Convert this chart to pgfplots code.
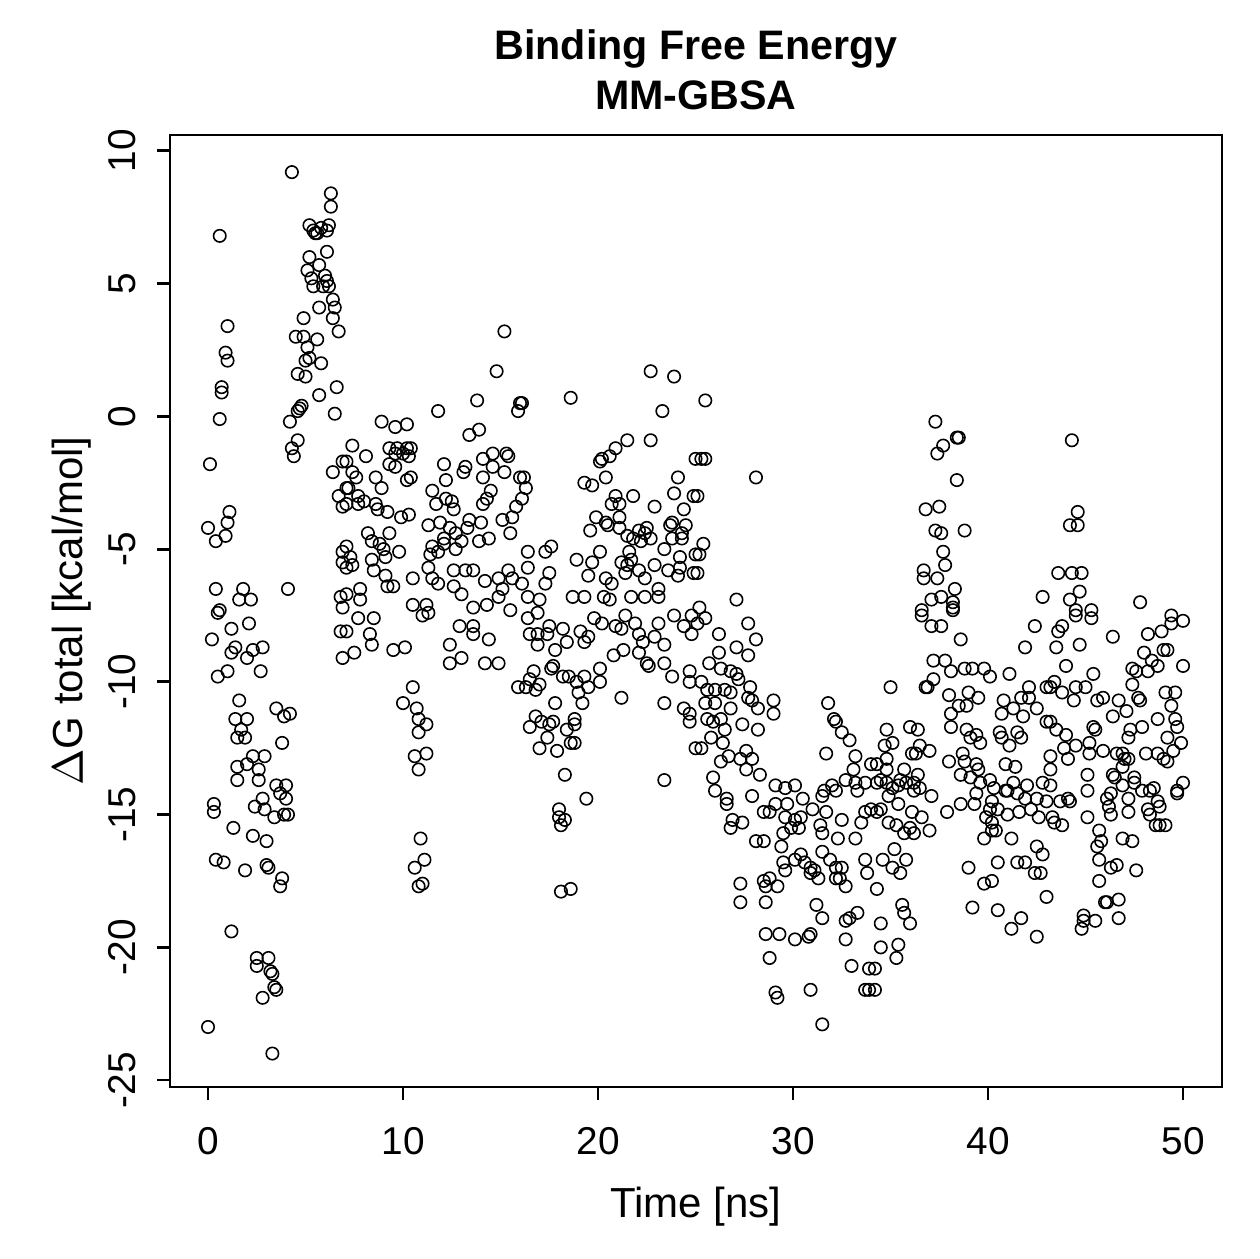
\documentclass[border=0pt]{standalone}
\usepackage{pgfplots}
\pgfplotsset{compat=1.18}
\usepackage{fontspec}
\setmainfont{Liberation Sans}
\tikzset{pt/.style={only marks, mark=o, mark size=1.55pt, black, mark options={line width=0.4pt}}}
\begin{document}
\begin{tikzpicture}
\path[use as bounding box] (-42.5pt,-43pt) rectangle (272.25pt,271.75pt);
\begin{axis}[
  name=ax, at={(0,0)}, anchor=south west,
  scale only axis, width=263pt, height=238pt,
  xmin=-1.95, xmax=52.0, ymin=-25.26, ymax=10.60,
  xtick={0,10,20,30,40,50}, ytick={-25,-20,-15,-10,-5,0,5,10},
  tick pos=left, tick align=outside, major tick length=3.25pt,
  axis line style={line width=0.7pt}, every tick/.style={black, line width=0.7pt},
  /pgf/number format/assume math mode=true,
  tick label style={font=\fontsize{9.7}{12}\selectfont},
  xticklabel style={anchor=base},
  xticklabel shift=13.5pt,
  yticklabel style={rotate=90, anchor=base},
  yticklabel shift=5.25pt,
  title={Binding Free Energy\\MM-GBSA},
  title style={at={([yshift=0.25pt]rel axis cs:0.5,1)}, anchor=base, inner sep=0pt, align=center, font=\bfseries\fontsize{10.3}{12.5}\selectfont},
  xlabel={Time [ns]},
  xlabel style={at={([yshift=-32.5pt]rel axis cs:0.5,0)}, anchor=base, inner sep=0pt, font=\fontsize{10.5}{12}\selectfont},
  ylabel={$\Delta$G total [kcal/mol]},
  ylabel style={at={([xshift=-21.75pt]rel axis cs:0,0.5)}, anchor=base, inner sep=0pt, font=\fontsize{10.5}{12}\selectfont},
]
% 0-7 ns
\addplot[pt] coordinates {(4.3,9.2)(0.6,6.8)(6.3,8.4)(6.3,7.9)(5.2,7.2)(5.4,7.0)(5.5,6.9)(5.6,6.9)(5.8,7.1)(6.2,7.2)(6.1,7.0)(6.1,6.2)(5.2,6.0)(5.1,5.5)(5.7,5.7)(5.3,5.2)(6.0,5.3)(6.1,5.1)(5.4,4.9)(5.9,4.9)(6.2,4.9)(6.4,4.4)(6.5,4.1)(5.7,4.1)(4.9,3.7)(6.4,3.7)(6.7,3.2)(1.0,3.4)(4.5,3.0)(4.9,3.0)(5.6,2.9)(0.9,2.4)(1.0,2.1)(5.1,2.6)(5.0,2.1)(5.2,2.2)(5.8,2.0)(4.6,1.6)(5.0,1.5)(5.7,0.8)(6.6,1.1)(0.7,1.1)(0.7,0.9)(4.7,0.3)(4.8,0.4)(4.6,0.2)(0.6,-0.1)(6.5,0.1)(4.2,-0.2)(4.6,-0.9)(4.3,-1.2)(4.4,-1.5)(0.1,-1.8)(6.9,-1.7)(6.4,-2.1)(7.1,-2.7)(6.7,-3.0)(6.9,-3.4)(1.1,-3.6)(1.0,-4.0)(0.0,-4.2)(0.9,-4.5)(0.4,-4.7)(6.9,-5.1)(6.9,-5.5)(0.4,-6.5)(1.8,-6.5)(1.6,-6.9)(2.2,-6.9)(4.1,-6.5)(0.6,-7.3)(6.8,-6.8)(6.9,-7.2)
(0.5,-7.4)(2.1,-7.8)(1.2,-8.0)(0.2,-8.4)(1.4,-8.7)(2.8,-8.7)(2.3,-8.8)(1.2,-8.9)(2.0,-9.1)(1.0,-9.6)(0.5,-9.8)(2.7,-9.6)(6.8,-8.1)(6.9,-9.1)(1.6,-10.7)(3.5,-11.0)(3.9,-11.3)(4.2,-11.2)(1.4,-11.4)(2.0,-11.4)(1.7,-11.8)(1.5,-12.1)(1.9,-12.1)(3.8,-12.3)(2.3,-12.8)(2.9,-12.8)(2.0,-13.1)(1.5,-13.2)(2.6,-13.3)(1.5,-13.7)(2.6,-13.7)(3.5,-13.9)(4.0,-13.9)(3.7,-14.2)(4.0,-14.4)(2.8,-14.4)(2.4,-14.7)(2.9,-14.8)(3.4,-15.1)(3.9,-15.0)(4.1,-15.0)(0.3,-14.6)(0.3,-14.9)(1.3,-15.5)(2.3,-15.8)(3.0,-16.0)(0.4,-16.7)(0.8,-16.8)(1.9,-17.1)(3.0,-16.9)(3.1,-17.0)(3.8,-17.4)(3.7,-17.7)(1.2,-19.4)(2.5,-20.4)(2.5,-20.7)(3.1,-20.4)(3.2,-20.9)(3.3,-21.0)(3.4,-21.5)(3.5,-21.6)(2.8,-21.9)(0.0,-23.0)(3.3,-24.0)};
% 7-16 ns
\addplot[pt] coordinates {(15.2,3.2)(14.8,1.7)(13.8,0.6)(11.8,0.2)(8.9,-0.2)(9.6,-0.4)(10.2,-0.3)(15.9,0.2)(16.0,0.5)(13.9,-0.5)(13.4,-0.7)(7.4,-1.1)(8.1,-1.5)(9.3,-1.2)(9.7,-1.2)(10.2,-1.2)(10.4,-1.2)(9.6,-1.4)(10.0,-1.4)(10.3,-1.5)(9.3,-1.8)(9.6,-1.9)(10.2,-2.4)(10.4,-2.3)(7.1,-1.7)(7.4,-2.1)(7.6,-2.3)(7.2,-2.7)(8.6,-2.3)(8.9,-2.7)(12.1,-1.8)(12.2,-2.4)(13.2,-1.9)(13.1,-2.1)(14.1,-1.6)(14.6,-1.4)(15.3,-1.4)(15.4,-1.5)(14.6,-1.9)(14.1,-2.3)(15.2,-2.1)(16.0,-2.3)(11.5,-2.8)(11.7,-3.3)(12.2,-3.1)(12.6,-3.5)(12.5,-3.2)(14.5,-2.8)(14.3,-3.1)(14.1,-3.3)(15.8,-3.4)(7.7,-3.0)(8.0,-3.2)(7.7,-3.3)(8.6,-3.3)(8.7,-3.5)(9.2,-3.6)(7.1,-3.3)(9.9,-3.8)(10.3,-3.7)(11.3,-4.1)(11.9,-4.0)(12.4,-4.2)(12.7,-4.4)(13.3,-4.2)(13.4,-3.9)(14.0,-4.0)(15.1,-3.9)(15.6,-3.8)(15.5,-4.4)(14.4,-4.6)(13.9,-4.7)(13.0,-4.7)(12.7,-5.0)(12.1,-4.6)(11.5,-4.9)(11.4,-5.2)(11.8,-5.1)(12.1,-4.8)(8.2,-4.4)(8.4,-4.7)(8.8,-4.8)(9.3,-4.4)(9.1,-5.3)(9.8,-5.1)(9.0,-5.0)(7.1,-4.9)(7.3,-5.3)(7.4,-5.6)(7.1,-5.7)(8.4,-5.4)(8.5,-5.8)(9.1,-6.0)(9.2,-6.4)(9.5,-6.4)(10.5,-6.1)(11.3,-5.7)(11.5,-6.1)(11.8,-6.3)(12.6,-5.8)(12.6,-6.4)(13.0,-6.7)(13.2,-5.8)(13.6,-5.8)(14.2,-6.2)(14.9,-6.1)(15.4,-5.8)(15.6,-6.1)(15.1,-6.5)(14.9,-6.8)(7.1,-6.7)(7.8,-6.5)(7.8,-6.9)(10.5,-7.1)(11.2,-7.1)(13.6,-7.2)(14.3,-7.1)
(7.1,-8.1)(7.5,-8.9)(7.7,-7.6)(8.3,-8.2)(8.4,-8.6)(8.5,-7.6)(9.5,-8.8)(10.1,-8.7)(11.0,-7.5)(11.3,-7.4)(12.4,-8.6)(12.4,-9.3)(13.0,-9.1)(12.9,-7.9)(13.6,-7.9)(13.6,-8.2)(14.4,-8.4)(14.2,-9.3)(14.9,-9.3)(15.9,-10.2)(15.5,-7.3)(10.5,-10.2)(10.0,-10.8)(10.7,-11.0)(10.8,-11.4)(11.2,-11.6)(10.8,-11.9)(11.2,-12.7)(10.6,-12.8)(10.8,-13.3)(10.9,-15.9)(11.1,-16.7)(10.6,-17.0)(11.0,-17.6)(10.8,-17.7)};
% 16-25 ns
\addplot[pt] coordinates {(22.7,1.7)(23.9,1.5)(18.6,0.7)(23.3,0.2)(16.1,0.5)(21.5,-0.9)(22.7,-0.9)(20.9,-1.2)(20.6,-1.5)(20.2,-1.6)(20.1,-1.7)(25.0,-1.6)(16.2,-2.3)(16.3,-2.7)(16.1,-3.1)(19.3,-2.5)(19.7,-2.6)(20.4,-2.3)(24.1,-2.3)(23.9,-2.9)(24.9,-3.0)(20.9,-3.0)(20.7,-3.3)(21.1,-3.3)(21.8,-3.0)(22.9,-3.4)(24.4,-3.5)(19.9,-3.8)(19.6,-4.3)(20.4,-4.0)(20.5,-4.1)(21.1,-3.8)(21.1,-4.2)(21.5,-4.5)(22.1,-4.3)(22.5,-4.2)(22.4,-4.4)(22.7,-4.6)(21.8,-4.6)(22.2,-4.7)(23.8,-4.0)(23.7,-4.1)(24.5,-4.1)(23.8,-4.6)(24.3,-4.6)(24.3,-4.4)(24.2,-5.3)(23.4,-5.0)(25.0,-5.2)(16.4,-5.1)(17.3,-5.1)(17.6,-4.9)(20.1,-5.1)(21.6,-5.1)(16.4,-5.7)(17.5,-5.9)(17.3,-6.3)(18.9,-5.4)(19.7,-5.5)(19.5,-6.0)(20.4,-6.1)(20.7,-6.3)(21.2,-5.5)(21.5,-5.6)(21.7,-5.4)(22.1,-5.8)(22.4,-6.1)(21.4,-5.9)(22.9,-5.6)(23.6,-5.8)(24.1,-6.0)(24.2,-5.7)(24.9,-5.9)(23.1,-6.5)(21.7,-6.8)(18.7,-6.8)(19.3,-6.8)(20.3,-6.8)(20.6,-6.9)(16.4,-6.8)(17.0,-6.9)(22.4,-6.8)(23.1,-6.8)(16.1,-6.3)
(16.4,-7.6)(16.9,-7.4)(16.5,-8.2)(16.9,-8.2)(17.4,-8.2)(17.5,-7.9)(18.2,-8.0)(16.9,-8.6)(17.8,-8.8)(18.4,-8.5)(19.1,-8.1)(19.5,-8.3)(19.3,-8.5)(19.8,-7.6)(20.2,-7.8)(20.9,-7.9)(21.2,-8.0)(21.4,-7.5)(21.9,-7.8)(22.1,-8.2)(22.3,-8.5)(22.1,-8.9)(22.5,-9.3)(22.6,-9.4)(22.9,-8.3)(23.1,-7.8)(23.4,-8.6)(23.4,-9.3)(23.8,-9.8)(23.9,-7.5)(24.4,-7.9)(24.8,-8.2)(24.8,-7.5)(24.7,-9.6)(24.7,-10.0)(20.8,-9.0)(21.3,-8.8)(16.7,-9.6)(16.5,-9.9)(17.0,-10.1)(16.8,-10.3)(16.3,-10.2)(17.7,-9.4)(17.6,-9.5)(18.2,-9.8)(18.5,-9.8)(18.9,-10.0)(19.3,-9.8)(20.1,-9.5)(20.1,-10.0)(19.5,-10.2)(19.0,-10.4)(19.2,-10.8)(17.8,-10.8)(21.2,-10.6)(23.4,-10.8)(24.4,-11.0)(24.7,-11.2)(24.7,-11.5)(16.8,-11.3)(16.5,-11.7)(17.1,-11.5)(17.5,-11.6)(17.7,-11.5)(18.4,-11.8)(18.8,-11.4)(18.8,-11.6)(18.6,-12.3)(18.8,-12.3)(17.4,-12.1)(17.0,-12.5)(17.9,-12.6)(25.0,-12.5)(18.3,-13.5)(19.4,-14.4)(23.4,-13.7)(18.0,-14.8)(18.0,-15.1)(18.3,-15.2)(18.1,-15.4)(18.1,-17.9)(18.6,-17.8)};
% 25-34 ns
\addplot[pt] coordinates {(25.5,0.6)(25.3,-1.6)(25.5,-1.6)(28.1,-2.3)(25.1,-3.0)(25.4,-4.8)(25.2,-5.2)(25.1,-5.9)(27.1,-6.9)(25.2,-7.2)
(25.5,-7.6)(25.1,-7.8)(27.7,-7.8)(26.2,-8.2)(28.1,-8.4)(27.1,-8.7)(27.7,-9.0)(26.2,-8.9)(25.7,-9.3)(26.3,-9.5)(26.8,-9.6)(27.1,-9.7)(27.2,-9.9)(25.3,-10.0)(25.6,-10.3)(26.0,-10.3)(26.5,-10.3)(26.8,-10.4)(25.5,-10.8)(26.0,-10.8)(26.8,-11.0)(27.8,-10.2)(27.7,-10.6)(27.9,-10.7)(28.2,-11.0)(29.0,-10.7)(29.0,-11.2)(25.6,-11.4)(25.9,-11.5)(26.3,-11.4)(26.5,-11.8)(27.4,-11.6)(28.2,-11.8)(25.3,-12.5)(25.8,-12.1)(26.4,-12.3)(26.7,-12.8)(26.3,-13.0)(27.3,-12.9)(27.6,-12.6)(27.9,-12.9)(27.6,-13.3)(28.3,-13.5)(25.9,-13.6)(26.0,-14.1)(26.6,-14.4)(26.6,-14.6)(27.9,-14.3)(26.9,-15.2)(26.8,-15.5)(27.4,-15.3)(28.1,-16.0)(28.5,-16.0)(28.5,-14.9)(29.1,-14.6)(28.8,-14.9)(29.1,-13.9)(29.6,-14.0)(30.1,-13.9)(30.5,-14.4)(29.7,-14.6)(29.6,-15.1)(30.1,-15.2)(30.4,-15.1)(30.3,-15.5)(29.5,-15.7)(29.9,-15.5)(29.4,-16.2)(29.5,-16.8)(29.6,-17.1)(30.1,-16.7)(30.4,-16.5)(30.6,-16.8)(30.9,-17.0)(30.9,-17.2)(31.1,-17.1)(31.3,-17.4)(29.2,-17.7)(28.8,-17.4)(28.5,-17.5)(28.6,-17.7)(27.3,-17.6)(27.3,-18.3)(28.6,-18.3)(31.2,-18.4)(31.5,-18.9)(28.6,-19.5)(29.3,-19.5)(30.1,-19.7)(30.8,-19.6)(30.9,-19.5)(28.8,-20.4)(29.1,-21.7)(29.2,-21.9)(30.9,-21.6)(31.5,-22.9)(31.8,-10.8)(32.1,-11.4)(32.2,-11.5)(31.7,-12.7)(32.5,-11.9)(32.9,-12.2)(33.2,-12.8)(33.1,-13.3)(34.0,-13.1)(32.7,-13.7)(33.2,-13.8)(33.3,-14.1)(33.7,-13.8)(32.0,-13.9)(32.2,-14.1)(31.6,-14.1)(31.5,-14.3)(31.0,-14.8)(31.7,-14.9)(32.5,-15.2)(31.4,-15.4)(31.5,-15.7)(32.3,-15.9)(33.2,-15.9)(33.7,-14.9)(33.5,-15.3)(34.0,-14.8)(31.5,-16.4)(31.9,-16.7)(32.2,-17.0)(32.5,-17.0)(32.4,-17.4)(32.2,-17.4)(33.7,-16.7)(33.8,-17.2)(32.7,-17.7)(32.7,-19.0)(32.9,-18.9)(33.3,-18.7)(32.7,-19.7)(33.0,-20.7)(33.9,-20.8)(33.7,-21.6)(33.9,-21.6)};
% 34-43 ns
\addplot[pt] coordinates {(37.3,-0.2)(38.4,-0.8)(38.5,-0.8)(37.7,-1.1)(37.4,-1.4)(38.4,-2.4)(36.8,-3.5)(37.5,-3.4)(37.3,-4.3)(37.6,-4.4)(38.8,-4.3)(37.7,-5.1)(37.8,-5.6)(36.7,-5.8)(36.7,-6.1)(37.4,-6.1)(38.3,-6.5)(37.1,-6.9)(37.6,-6.8)(38.2,-7.0)(38.2,-7.2)(36.6,-7.3)(42.8,-6.8)
(36.6,-7.5)(37.1,-7.9)(37.6,-7.9)(38.2,-7.3)(38.6,-8.4)(42.4,-7.9)(41.9,-8.7)(37.2,-9.2)(37.8,-9.2)(38.1,-9.6)(38.8,-9.5)(39.2,-9.5)(39.8,-9.5)(40.1,-9.8)(41.1,-9.7)(35.0,-10.2)(36.8,-10.2)(36.9,-10.2)(37.2,-9.9)(38.0,-10.5)(38.5,-10.9)(39.0,-10.4)(38.9,-10.9)(39.5,-10.6)(38.1,-11.2)(38.1,-11.7)(40.8,-10.7)(40.7,-11.2)(41.3,-11.0)(41.7,-10.6)(42.1,-10.2)(42.1,-10.6)(41.8,-11.3)(42.5,-11.0)(43.0,-10.2)(43.0,-11.5)(36.0,-11.7)(36.4,-11.8)(34.8,-11.8)(34.7,-12.4)(35.1,-12.3)(36.1,-12.7)(36.3,-12.7)(36.5,-12.4)(37.0,-12.6)(34.8,-12.9)(34.3,-13.1)(34.8,-13.3)(35.7,-13.3)(36.4,-13.5)(38.0,-13.0)(38.7,-12.7)(38.8,-13.0)(38.9,-11.8)(39.1,-12.1)(39.4,-12.0)(39.6,-12.3)(40.6,-11.9)(40.7,-12.1)(41.5,-11.9)(41.7,-12.1)(41.1,-12.4)(40.9,-13.1)(41.4,-13.2)(39.4,-13.1)(39.5,-13.3)(38.6,-13.5)(39.1,-13.6)(39.6,-13.8)(40.1,-13.7)(39.4,-14.2)(39.3,-14.6)(38.6,-14.6)(37.9,-14.9)(40.3,-14.0)(40.9,-14.1)(41.0,-14.1)(41.3,-13.8)(41.5,-14.2)(42.0,-13.9)(41.9,-14.4)(42.5,-14.4)(42.8,-13.8)(43.0,-14.5)(40.2,-14.5)(40.1,-14.8)(40.5,-14.8)(41.0,-15.0)(41.6,-14.9)(42.2,-14.8)(42.6,-15.1)(39.9,-15.1)(40.2,-15.3)(40.2,-15.6)(40.4,-15.6)(39.8,-15.9)(41.2,-15.9)(42.5,-16.2)(42.8,-16.5)(40.5,-16.8)(41.5,-16.8)(41.9,-16.8)(42.4,-17.2)(42.7,-17.2)(43.0,-18.1)(39.0,-17.0)(39.8,-17.6)(40.2,-17.5)(39.2,-18.5)(40.5,-18.6)(41.2,-19.3)(41.7,-18.9)(42.5,-19.6)
(34.3,-13.8)(34.5,-13.7)(34.8,-13.8)(35.1,-14.0)(35.4,-13.9)(35.5,-13.7)(35.8,-13.8)(36.2,-13.8)(36.2,-14.1)(36.5,-14.0)(37.1,-14.3)(35.4,-14.6)(34.9,-14.3)(34.3,-14.9)(34.5,-14.8)(34.9,-15.3)(35.3,-15.4)(35.7,-15.7)(36.1,-14.9)(36.0,-15.5)(36.6,-15.1)(36.2,-15.7)(37.0,-15.6)(35.2,-16.3)(34.6,-16.7)(35.1,-17.0)(35.5,-17.2)(35.8,-16.7)(34.3,-17.8)(35.6,-18.4)(35.7,-18.7)(36.0,-19.1)(34.5,-19.1)(35.4,-19.9)(34.5,-20.0)(35.3,-20.4)(34.2,-20.8)(34.2,-21.6)};
% 43-50 ns
\addplot[pt] coordinates {(44.3,-0.9)(44.6,-3.6)(44.2,-4.1)(44.6,-4.1)(43.6,-5.9)(44.3,-5.9)(44.8,-5.9)(44.7,-6.6)(44.2,-6.9)(47.8,-7.0)(45.3,-7.3)(44.5,-7.3)
(44.5,-7.5)(45.3,-7.6)(43.8,-7.9)(43.6,-8.1)(43.5,-8.7)(44.7,-8.6)(46.4,-8.3)(48.2,-8.2)(48.9,-8.1)(49.4,-7.5)(50.0,-7.7)(49.4,-7.8)(48.0,-8.9)(49.0,-8.8)(49.2,-8.8)(48.4,-9.2)(48.7,-9.4)(48.2,-9.6)(50.0,-9.4)(47.4,-9.5)(47.6,-9.6)(47.4,-10.1)(44.0,-9.4)(45.4,-9.7)(43.4,-10.0)(43.2,-10.2)(43.8,-10.4)(44.4,-10.7)(44.5,-10.2)(45.0,-10.2)(45.6,-10.7)(45.9,-10.6)(46.7,-10.7)(47.7,-10.6)(47.8,-10.7)(49.1,-10.4)(49.6,-10.4)(49.4,-10.9)(46.4,-11.3)(47.1,-11.1)(48.7,-11.4)(49.6,-11.4)(49.7,-11.7)(49.2,-12.1)(49.9,-12.3)(49.5,-12.6)(49.2,-13.0)(49.0,-12.9)(48.7,-12.7)(48.1,-12.7)(47.9,-11.7)(47.3,-11.8)(47.2,-12.1)(45.4,-11.7)(45.5,-11.8)(45.2,-12.3)(45.2,-12.7)(45.9,-12.6)(46.6,-12.7)(46.9,-12.7)(47.0,-12.9)(47.2,-12.9)(46.9,-13.2)(44.5,-12.4)(44.1,-12.9)(43.9,-12.5)(44.0,-12.0)(43.5,-11.8)(43.2,-11.5)(43.2,-12.8)(43.2,-13.3)(43.2,-13.9)(45.1,-13.5)(45.1,-14.1)(46.4,-13.5)(46.5,-13.6)(46.9,-13.9)(47.5,-13.6)(47.5,-13.8)(47.9,-14.1)(48.3,-14.1)(48.5,-14.0)(48.7,-14.5)(48.8,-14.7)(48.2,-14.8)(48.3,-15.0)(48.6,-15.4)(48.8,-15.4)(49.1,-15.4)(49.7,-14.1)(49.7,-14.2)(50.0,-13.8)(46.1,-14.4)(46.3,-14.2)(46.2,-14.7)(46.3,-15.0)(47.2,-14.4)(47.2,-14.9)(45.1,-15.1)(43.7,-14.5)(44.1,-14.4)(44.2,-14.5)(43.3,-15.1)(43.4,-15.3)(43.8,-15.4)(45.7,-15.6)(45.8,-16.0)(45.6,-16.2)(46.9,-15.9)(47.4,-16.0)(45.7,-16.7)(46.3,-17.0)(46.6,-16.9)(47.6,-17.1)(45.7,-17.5)(46.1,-18.3)(46.0,-18.3)(46.7,-18.2)(46.7,-18.9)(44.9,-18.8)(44.9,-19.0)(45.5,-19.0)(44.8,-19.3)};
\end{axis}
\end{tikzpicture}
\end{document}
